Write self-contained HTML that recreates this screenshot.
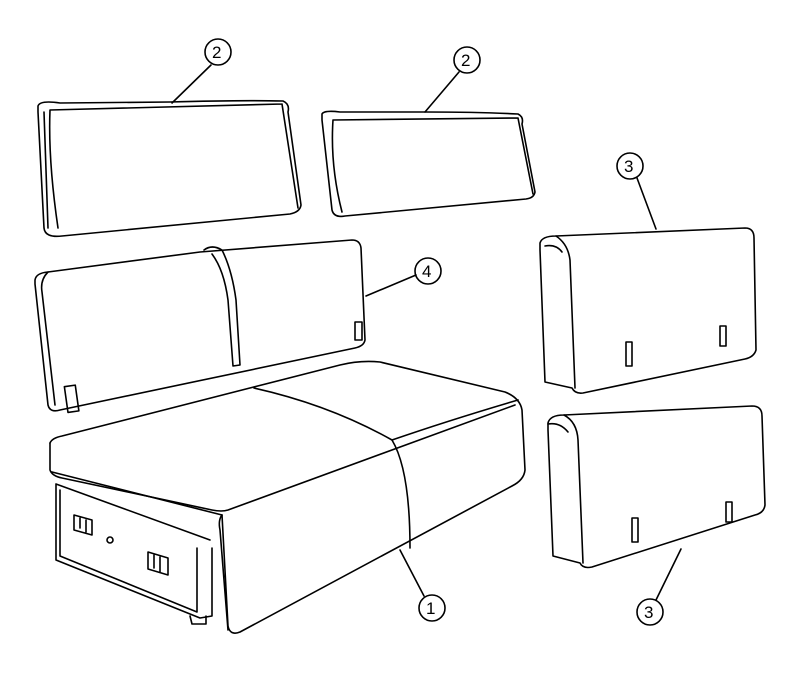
<!DOCTYPE html>
<html><head><meta charset="utf-8"><style>
html,body{margin:0;padding:0;background:#fff;}
svg{display:block}
text{font-family:"Liberation Sans",sans-serif;font-size:17px;}
</style></head><body>
<svg width="805" height="676" viewBox="0 0 805 676" fill="none" stroke="#000" stroke-width="1.6" stroke-linejoin="round" stroke-linecap="round">
<!-- cushion 2 left -->
<path d="M38,106 Q40,100 60,103 L170,102 Q240,100 283,101 Q290,104 288,112 L301,205 Q300,212 290,214 L62,236 Q45,238 44,228 L38,112 Z"/>
<path d="M50,110 L282,104 M50,110 Q48,160 58,228 M282,104 L298,208"/>
<path d="M44,112 L48,228"/>
<!-- cushion 2 right -->
<path d="M322,114 Q324,110 340,112 L425,112 Q480,112 518,114 Q524,117 522,124 L535,192 Q534,198 526,199 L345,216 Q334,218 332,210 L322,120 Z"/>
<path d="M333,120 L518,118 M333,120 Q330,165 342,212 M518,118 L533,194"/>
<!-- labels 2 -->
<circle cx="218" cy="52" r="13"/><text x="212" y="58" stroke="none" fill="#000">2</text>
<path d="M211,65 L172,103"/>
<circle cx="467" cy="60" r="13"/><text x="461" y="66" stroke="none" fill="#000">2</text>
<path d="M459,72 L425,112"/>
<!-- backrest 4 -->
<path d="M35,280 Q36,273 48,272 L200,252 L352,240 Q360,240 361,248 L365,340 Q364,346 355,348 L60,410 Q50,413 48,405 L35,284 Z"/>
<path d="M48,272 Q40,280 42,292 L55,405"/>
<path d="M204,250 Q212,244 222,250 Q232,270 236,300 L240,365 L233,366 L228,300 Q224,270 212,254"/>
<rect x="66" y="386" width="11" height="26" transform="rotate(-8 70 398)"/>
<rect x="355" y="322" width="7" height="18"/>
<circle cx="428" cy="271" r="13"/><text x="422" y="277" stroke="none" fill="#000">4</text>
<path d="M416,275 L366,296"/>
<!-- cushions 3 -->
<path d="M540,243 Q542,236 556,236 L745,228 Q754,228 754,238 L756,350 Q754,357 745,359 L583,393 Q575,394 572,388 L545,382 L540,250 Z"/>
<path d="M556,236 Q568,244 570,260 L575,388 M545,246 Q556,244 562,252"/>
<rect x="626" y="342" width="6" height="24"/><rect x="720" y="326" width="6" height="20"/>
<circle cx="630" cy="166" r="13"/><text x="624" y="172" stroke="none" fill="#000">3</text>
<path d="M637,178 L656,229"/>
<path d="M548,423 Q550,415 564,415 L752,406 Q762,406 762,416 L765,505 Q764,513 755,515 L592,567 Q583,569 580,563 L553,556 L548,430 Z"/>
<path d="M564,415 Q577,422 578,440 L583,563 M548,424 Q560,422 568,432"/>
<rect x="632" y="518" width="6" height="24"/><rect x="726" y="502" width="6" height="20"/>
<circle cx="650" cy="612" r="13"/><text x="644" y="618" stroke="none" fill="#000">3</text>
<path d="M656,600 L681,549"/>
<!-- seat 1 -->
<path d="M50,443 Q52,438 62,436 L340,365 Q360,360 380,362 L505,392 Q520,398 522,410 L525,470 Q524,480 512,486 L240,632 Q230,636 228,626 L222,515"/>
<path d="M50,443 L50,470 Q52,476 62,478 L212,510 Q222,512 228,510 L515,405"/>
<path d="M52,472 L222,515"/>
<path d="M254,388 Q330,405 392,440 Q410,470 410,548"/>
<path d="M392,440 Q450,420 518,400"/>
<path d="M222,515 Q218,520 220,530 L228,630"/>
<path d="M56,484 L56,560 L200,618 L212,616 L212,548 M60,490 L60,556 L197,612 L197,548 M56,484 L210,540"/>
<path d="M190,616 L192,624 L206,624 L206,616"/>
<path d="M74,515 L92,520 L92,535 L74,530 Z M80,518 L80,528 M86,520 L86,532"/>
<circle cx="110" cy="540" r="3"/>
<path d="M148,552 L168,558 L168,575 L148,569 Z M154,555 L154,568 M160,557 L160,572"/>
<circle cx="432" cy="608" r="13"/><text x="426" y="614" stroke="none" fill="#000">1</text>
<path d="M424,596 L400,550"/>
</svg>
</body></html>
